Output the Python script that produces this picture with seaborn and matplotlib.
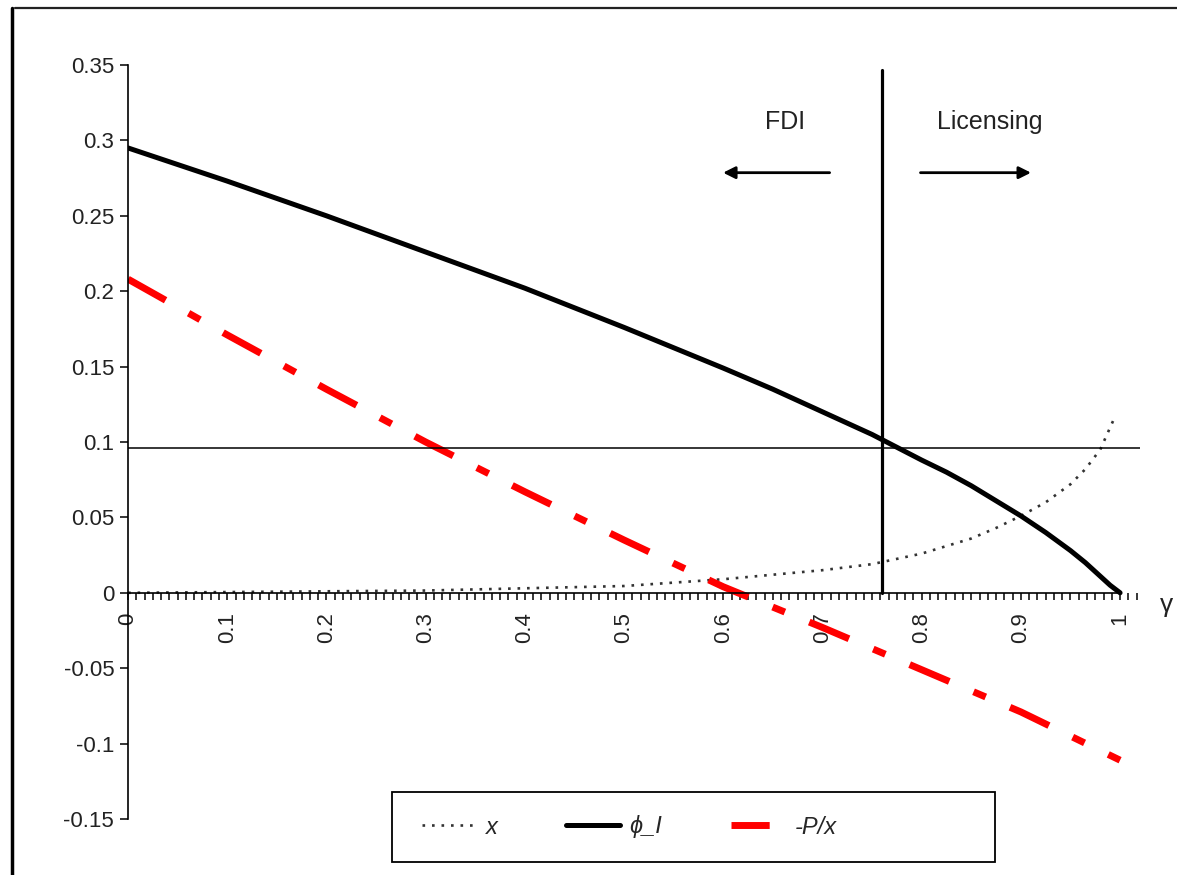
import numpy as np
import pandas as pd
import seaborn as sns
import matplotlib.pyplot as plt
from matplotlib.lines import Line2D
from matplotlib.patches import Rectangle
from matplotlib.ticker import AutoMinorLocator

# values
gamma_phi = [0.0, 0.1, 0.2, 0.3, 0.4, 0.5, 0.6, 0.65, 0.7, 0.75, 0.8, 0.825, 0.85, 0.875,
             0.9, 0.925, 0.95, 0.965, 0.98, 0.99, 1.0]
phi_i = [0.295, 0.273, 0.250, 0.226, 0.202, 0.176, 0.149, 0.135, 0.120, 0.105, 0.088, 0.080,
         0.071, 0.061, 0.051, 0.040, 0.028, 0.020, 0.011, 0.005, 0.0]

gamma_x = [0.0, 0.1, 0.2, 0.3, 0.4, 0.5, 0.6, 0.7, 0.75, 0.8, 0.85, 0.875, 0.9, 0.925,
           0.95, 0.965, 0.98, 0.995]
x_vals = [0.0, 0.0005, 0.001, 0.0015, 0.003, 0.0045, 0.009, 0.015, 0.019, 0.026, 0.036,
          0.043, 0.051, 0.060, 0.072, 0.082, 0.095, 0.117]

gamma_p = [0.0, 0.1, 0.2, 0.3, 0.4, 0.5, 0.6, 0.7, 0.8, 0.9, 1.0]
neg_p_over_x = [0.208, 0.171, 0.135, 0.100, 0.067, 0.035, 0.004, -0.023, -0.051, -0.079, -0.111]

series_labels = ['x', 'ϕ_I', '-P/x']
threshold_gamma = 0.76
threshold_level = 0.096

sns.set_style('white')
plt.rcParams['font.family'] = ['Liberation Sans', 'DejaVu Sans']

fig = plt.figure(figsize=(11.77, 8.75), dpi=100)
ax = fig.add_axes([0.1088, 0.064, 0.8597, 0.8617])

df_x = pd.DataFrame({'gamma': gamma_x, 'value': x_vals})
df_phi = pd.DataFrame({'gamma': gamma_phi, 'value': phi_i})
df_p = pd.DataFrame({'gamma': gamma_p, 'value': neg_p_over_x})

sns.lineplot(data=df_x, x='gamma', y='value', ax=ax, color='#333333', lw=1.9,
             linestyle=(0, (1, 2.6)), label=series_labels[0])
sns.lineplot(data=df_phi, x='gamma', y='value', ax=ax, color='black', lw=3.6,
             label=series_labels[1])
sns.lineplot(data=df_p, x='gamma', y='value', ax=ax, color='#ff0000', lw=5,
             linestyle=(0, (6.2, 3.8, 1.9, 3.8)), solid_capstyle='butt',
             dash_capstyle='butt', label=series_labels[2])

# threshold lines
ax.plot([threshold_gamma, threshold_gamma], [0, 0.347], color='black', lw=2.3)
ax.plot([0, 1.02], [threshold_level, threshold_level], color='black', lw=1.1)

ax.set_xlim(0, 1.02)
ax.set_ylim(-0.15, 0.35)

for s in ['top', 'right']:
    ax.spines[s].set_visible(False)
ax.spines['bottom'].set_position(('data', 0))
ax.spines['bottom'].set_bounds(0, 1)
ax.spines['left'].set_position(('data', 0))
for s in ['bottom', 'left']:
    ax.spines[s].set_color('black')
    ax.spines[s].set_linewidth(1.2)

ax.xaxis.set_minor_locator(AutoMinorLocator(12))
ax.set_xticks(np.round(np.arange(0, 1.01, 0.1), 1))
ax.set_xticklabels(['0', '0.1', '0.2', '0.3', '0.4', '0.5', '0.6', '0.7', '0.8', '0.9', '1'],
                   rotation=90)
ax.set_yticks(np.round(np.arange(-0.15, 0.351, 0.05), 2))
ax.set_yticklabels(['-0.15', '-0.1', '-0.05', '0', '0.05', '0.1', '0.15', '0.2', '0.25', '0.3', '0.35'])
ax.tick_params(axis='x', which='both', direction='out', length=5, width=1.1,
               color='black', labelsize=16, labelcolor='#222222', pad=9, bottom=True)
ax.tick_params(axis='y', which='major', direction='out', length=6, width=1.1,
               color='black', labelsize=16, labelcolor='#222222', pad=4, left=True)
ax.set_xlabel('')
ax.set_ylabel('')

ax.text(1.04, -0.008, 'γ', fontsize=19, color='#222222', ha='left', va='center', clip_on=False)

# region annotations
ax.text(0.662, 0.312, 'FDI', fontsize=18, color='#222222', ha='center', va='center')
ax.text(0.869, 0.312, 'Licensing', fontsize=18, color='#222222', ha='center', va='center')
ax.annotate('', xy=(0.597, 0.2786), xytext=(0.71, 0.2786),
            arrowprops=dict(arrowstyle='-|>', color='black', lw=2, mutation_scale=18))
ax.annotate('', xy=(0.913, 0.2786), xytext=(0.796, 0.2786),
            arrowprops=dict(arrowstyle='-|>', color='black', lw=2, mutation_scale=18))

# legend: entries without frame, box drawn separately (Excel style wide box)
leg = ax.legend(loc='center left', bbox_to_anchor=(410 / 1177, 1 - 827 / 875),
                bbox_transform=fig.transFigure, ncol=3, frameon=False,
                handlelength=2.3, columnspacing=2.9, handletextpad=0.4, borderpad=0,
                prop={'size': 17, 'style': 'italic'})
red_handle = leg.get_lines()[2]
red_handle.set_linestyle((0, (5.5, 20)))
red_handle.set_dash_capstyle('butt')
fig.add_artist(Rectangle((392 / 1177, 1 - 862 / 875), 603 / 1177, 70 / 875, fill=False,
                         edgecolor='black', lw=1.3, transform=fig.transFigure))

# outer frame of the picture
fig.add_artist(Line2D([0.0102, 0.0102], [0.0, 0.9909], color='black', lw=2.5, transform=fig.transFigure))
fig.add_artist(Line2D([0.0127, 1.0], [0.9909, 0.9909], color='#222222', lw=1.6, transform=fig.transFigure))

fig.savefig('out.png', dpi=100)
